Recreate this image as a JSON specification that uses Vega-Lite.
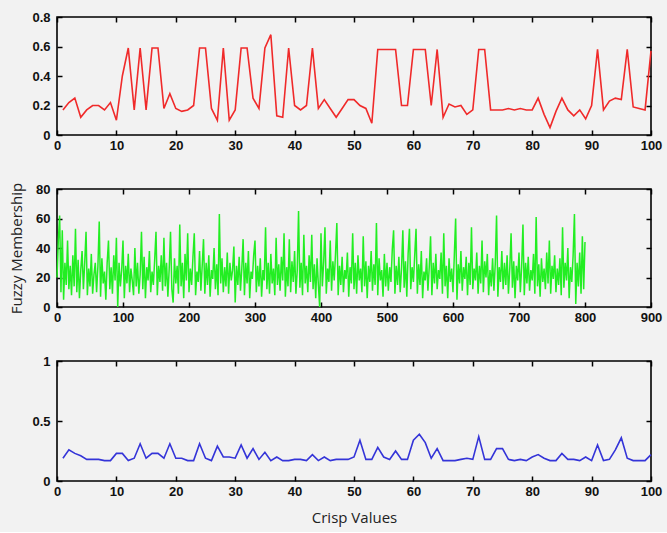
{
"$schema": "https://vega.github.io/schema/vega-lite/v6.json",
"background": "#f2f2f2",
"padding": {"left": 8, "top": 10, "right": 10, "bottom": 6},
"spacing": 54,
"bounds": "flush",
"config": {
  "view": {"stroke": "#000", "strokeWidth": 1.6, "fill": "#f2f2f2"},
  "axis": {"domain": false, "grid": false, "ticks": true, "tickSize": -5, "tickColor": "#000", "tickWidth": 1.5, "labelFont": "Liberation Sans", "labelFontWeight": "bold", "labelFontSize": 13, "labelColor": "#111", "labelFlush": false, "labelOverlap": false, "titleFont": "Open Sans", "titleFontWeight": "normal", "titleFontSize": 15, "titleColor": "#222"},
  "axisLeft": {"labelPadding": 12},
  "axisBottom": {"labelPadding": 9}
},
"datasets": {
"red": [{"x":1,"y":0.17},{"x":2,"y":0.22},{"x":3,"y":0.25},{"x":4,"y":0.12},{"x":5,"y":0.17},{"x":6,"y":0.2},{"x":7,"y":0.2},{"x":8,"y":0.17},{"x":9,"y":0.22},{"x":10,"y":0.1},{"x":11,"y":0.4},{"x":12,"y":0.59},{"x":13,"y":0.17},{"x":14,"y":0.59},{"x":15,"y":0.17},{"x":16,"y":0.59},{"x":17,"y":0.59},{"x":18,"y":0.18},{"x":19,"y":0.28},{"x":20,"y":0.18},{"x":21,"y":0.16},{"x":22,"y":0.17},{"x":23,"y":0.2},{"x":24,"y":0.59},{"x":25,"y":0.59},{"x":26,"y":0.18},{"x":27,"y":0.1},{"x":28,"y":0.59},{"x":29,"y":0.1},{"x":30,"y":0.17},{"x":31,"y":0.59},{"x":32,"y":0.59},{"x":33,"y":0.25},{"x":34,"y":0.18},{"x":35,"y":0.59},{"x":36,"y":0.68},{"x":37,"y":0.13},{"x":38,"y":0.12},{"x":39,"y":0.59},{"x":40,"y":0.2},{"x":41,"y":0.17},{"x":42,"y":0.2},{"x":43,"y":0.59},{"x":44,"y":0.18},{"x":45,"y":0.24},{"x":46,"y":0.18},{"x":47,"y":0.12},{"x":48,"y":0.18},{"x":49,"y":0.24},{"x":50,"y":0.24},{"x":51,"y":0.2},{"x":52,"y":0.18},{"x":53,"y":0.08},{"x":54,"y":0.58},{"x":55,"y":0.58},{"x":56,"y":0.58},{"x":57,"y":0.58},{"x":58,"y":0.2},{"x":59,"y":0.2},{"x":60,"y":0.58},{"x":61,"y":0.58},{"x":62,"y":0.58},{"x":63,"y":0.2},{"x":64,"y":0.58},{"x":65,"y":0.12},{"x":66,"y":0.21},{"x":67,"y":0.19},{"x":68,"y":0.2},{"x":69,"y":0.14},{"x":70,"y":0.17},{"x":71,"y":0.58},{"x":72,"y":0.58},{"x":73,"y":0.17},{"x":74,"y":0.17},{"x":75,"y":0.17},{"x":76,"y":0.18},{"x":77,"y":0.17},{"x":78,"y":0.18},{"x":79,"y":0.17},{"x":80,"y":0.17},{"x":81,"y":0.25},{"x":82,"y":0.14},{"x":83,"y":0.05},{"x":84,"y":0.16},{"x":85,"y":0.25},{"x":86,"y":0.17},{"x":87,"y":0.13},{"x":88,"y":0.17},{"x":89,"y":0.11},{"x":90,"y":0.2},{"x":91,"y":0.58},{"x":92,"y":0.17},{"x":93,"y":0.23},{"x":94,"y":0.25},{"x":95,"y":0.24},{"x":96,"y":0.58},{"x":97,"y":0.19},{"x":98,"y":0.18},{"x":99,"y":0.17},{"x":100,"y":0.57}],
"blue": [{"x":1,"y":0.19},{"x":2,"y":0.26},{"x":3,"y":0.23},{"x":4,"y":0.21},{"x":5,"y":0.18},{"x":6,"y":0.18},{"x":7,"y":0.18},{"x":8,"y":0.17},{"x":9,"y":0.17},{"x":10,"y":0.23},{"x":11,"y":0.23},{"x":12,"y":0.17},{"x":13,"y":0.19},{"x":14,"y":0.31},{"x":15,"y":0.19},{"x":16,"y":0.23},{"x":17,"y":0.23},{"x":18,"y":0.19},{"x":19,"y":0.31},{"x":20,"y":0.19},{"x":21,"y":0.19},{"x":22,"y":0.17},{"x":23,"y":0.17},{"x":24,"y":0.31},{"x":25,"y":0.19},{"x":26,"y":0.17},{"x":27,"y":0.29},{"x":28,"y":0.2},{"x":29,"y":0.2},{"x":30,"y":0.19},{"x":31,"y":0.3},{"x":32,"y":0.19},{"x":33,"y":0.27},{"x":34,"y":0.18},{"x":35,"y":0.24},{"x":36,"y":0.17},{"x":37,"y":0.2},{"x":38,"y":0.17},{"x":39,"y":0.17},{"x":40,"y":0.18},{"x":41,"y":0.18},{"x":42,"y":0.17},{"x":43,"y":0.22},{"x":44,"y":0.17},{"x":45,"y":0.2},{"x":46,"y":0.17},{"x":47,"y":0.18},{"x":48,"y":0.18},{"x":49,"y":0.18},{"x":50,"y":0.2},{"x":51,"y":0.34},{"x":52,"y":0.18},{"x":53,"y":0.18},{"x":54,"y":0.28},{"x":55,"y":0.2},{"x":56,"y":0.18},{"x":57,"y":0.25},{"x":58,"y":0.18},{"x":59,"y":0.18},{"x":60,"y":0.34},{"x":61,"y":0.39},{"x":62,"y":0.32},{"x":63,"y":0.19},{"x":64,"y":0.27},{"x":65,"y":0.17},{"x":66,"y":0.17},{"x":67,"y":0.17},{"x":68,"y":0.18},{"x":69,"y":0.19},{"x":70,"y":0.18},{"x":71,"y":0.37},{"x":72,"y":0.18},{"x":73,"y":0.18},{"x":74,"y":0.27},{"x":75,"y":0.27},{"x":76,"y":0.18},{"x":77,"y":0.17},{"x":78,"y":0.18},{"x":79,"y":0.17},{"x":80,"y":0.2},{"x":81,"y":0.22},{"x":82,"y":0.19},{"x":83,"y":0.17},{"x":84,"y":0.17},{"x":85,"y":0.23},{"x":86,"y":0.18},{"x":87,"y":0.18},{"x":88,"y":0.17},{"x":89,"y":0.2},{"x":90,"y":0.17},{"x":91,"y":0.3},{"x":92,"y":0.17},{"x":93,"y":0.18},{"x":94,"y":0.26},{"x":95,"y":0.36},{"x":96,"y":0.19},{"x":97,"y":0.17},{"x":98,"y":0.17},{"x":99,"y":0.17},{"x":100,"y":0.22}],
"green": [
{"x":0,"y":20},{"x":2,"y":45},{"x":4,"y":62},{"x":6,"y":10},{"x":8,"y":52},{"x":10,"y":5},{"x":12,"y":30},{"x":14,"y":15},{"x":16,"y":45},{"x":18,"y":12},
{"x":20,"y":28},{"x":22,"y":8},{"x":24,"y":35},{"x":26,"y":14},{"x":28,"y":53},{"x":30,"y":10},{"x":32,"y":32},{"x":34,"y":6},{"x":36,"y":25},{"x":38,"y":38},
{"x":40,"y":12},{"x":42,"y":30},{"x":44,"y":51},{"x":46,"y":8},{"x":48,"y":26},{"x":50,"y":14},{"x":52,"y":36},{"x":54,"y":9},{"x":56,"y":22},{"x":58,"y":30},
{"x":60,"y":10},{"x":62,"y":28},{"x":64,"y":58},{"x":66,"y":7},{"x":68,"y":33},{"x":70,"y":16},{"x":72,"y":24},{"x":74,"y":5},{"x":76,"y":30},{"x":78,"y":45},
{"x":80,"y":12},{"x":82,"y":27},{"x":84,"y":9},{"x":86,"y":35},{"x":88,"y":18},{"x":90,"y":47},{"x":92,"y":0},{"x":94,"y":30},{"x":96,"y":14},{"x":98,"y":25},
{"x":100,"y":45},{"x":102,"y":6},{"x":104,"y":28},{"x":106,"y":16},{"x":108,"y":36},{"x":110,"y":10},{"x":112,"y":26},{"x":114,"y":18},{"x":116,"y":8},{"x":118,"y":40},
{"x":120,"y":14},{"x":122,"y":30},{"x":124,"y":9},{"x":126,"y":22},{"x":128,"y":51},{"x":130,"y":12},{"x":132,"y":34},{"x":134,"y":6},{"x":136,"y":27},{"x":138,"y":18},
{"x":140,"y":38},{"x":142,"y":10},{"x":144,"y":24},{"x":146,"y":15},{"x":148,"y":32},{"x":150,"y":51},{"x":152,"y":8},{"x":154,"y":28},{"x":156,"y":17},{"x":158,"y":35},
{"x":160,"y":11},{"x":162,"y":47},{"x":164,"y":14},{"x":166,"y":30},{"x":168,"y":7},{"x":170,"y":26},{"x":172,"y":51},{"x":174,"y":12},{"x":176,"y":3},{"x":178,"y":33},
{"x":180,"y":16},{"x":182,"y":28},{"x":184,"y":9},{"x":186,"y":56},{"x":188,"y":14},{"x":190,"y":30},{"x":192,"y":6},{"x":194,"y":36},{"x":196,"y":18},{"x":198,"y":50},
{"x":200,"y":10},{"x":202,"y":26},{"x":204,"y":15},{"x":206,"y":34},{"x":208,"y":50},{"x":210,"y":8},{"x":212,"y":24},{"x":214,"y":17},{"x":216,"y":38},{"x":218,"y":11},
{"x":220,"y":28},{"x":222,"y":46},{"x":224,"y":9},{"x":226,"y":30},{"x":228,"y":15},{"x":230,"y":35},{"x":232,"y":7},{"x":234,"y":25},{"x":236,"y":19},{"x":238,"y":40},
{"x":240,"y":12},{"x":242,"y":29},{"x":244,"y":8},{"x":246,"y":63},{"x":248,"y":16},{"x":250,"y":33},{"x":252,"y":10},{"x":254,"y":27},{"x":256,"y":14},{"x":258,"y":37},
{"x":260,"y":9},{"x":262,"y":30},{"x":264,"y":18},{"x":266,"y":25},{"x":268,"y":41},{"x":270,"y":3},{"x":272,"y":28},{"x":274,"y":15},{"x":276,"y":34},{"x":278,"y":11},
{"x":280,"y":26},{"x":282,"y":46},{"x":284,"y":8},{"x":286,"y":30},{"x":288,"y":16},{"x":290,"y":38},{"x":292,"y":6},{"x":294,"y":24},{"x":296,"y":19},{"x":298,"y":35},
{"x":300,"y":45},{"x":302,"y":10},{"x":304,"y":28},{"x":306,"y":14},{"x":308,"y":33},{"x":310,"y":7},{"x":312,"y":25},{"x":314,"y":18},{"x":316,"y":54},{"x":318,"y":12},
{"x":320,"y":30},{"x":322,"y":9},{"x":324,"y":36},{"x":326,"y":16},{"x":328,"y":26},{"x":330,"y":8},{"x":332,"y":47},{"x":334,"y":15},{"x":336,"y":29},{"x":338,"y":11},
{"x":340,"y":34},{"x":342,"y":18},{"x":344,"y":50},{"x":346,"y":7},{"x":348,"y":27},{"x":350,"y":14},{"x":352,"y":46},{"x":354,"y":10},{"x":356,"y":31},{"x":358,"y":17},
{"x":360,"y":38},{"x":362,"y":9},{"x":364,"y":25},{"x":366,"y":65},{"x":368,"y":13},{"x":370,"y":30},{"x":372,"y":8},{"x":374,"y":49},{"x":376,"y":16},{"x":378,"y":28},
{"x":380,"y":10},{"x":382,"y":35},{"x":384,"y":17},{"x":386,"y":49},{"x":388,"y":12},{"x":390,"y":29},{"x":392,"y":6},{"x":394,"y":33},{"x":396,"y":15},{"x":398,"y":0},
{"x":400,"y":50},{"x":402,"y":14},{"x":404,"y":30},{"x":406,"y":54},{"x":408,"y":9},{"x":410,"y":26},{"x":412,"y":17},{"x":414,"y":45},{"x":416,"y":11},{"x":418,"y":31},
{"x":420,"y":18},{"x":422,"y":36},{"x":424,"y":57},{"x":426,"y":8},{"x":428,"y":28},{"x":430,"y":15},{"x":432,"y":34},{"x":434,"y":10},{"x":436,"y":25},{"x":438,"y":19},
{"x":440,"y":37},{"x":442,"y":7},{"x":444,"y":27},{"x":446,"y":16},{"x":448,"y":50},{"x":450,"y":12},{"x":452,"y":30},{"x":454,"y":9},{"x":456,"y":35},{"x":458,"y":18},
{"x":460,"y":26},{"x":462,"y":10},{"x":464,"y":48},{"x":466,"y":14},{"x":468,"y":31},{"x":470,"y":6},{"x":472,"y":28},{"x":474,"y":17},{"x":476,"y":38},{"x":478,"y":11},
{"x":480,"y":29},{"x":482,"y":15},{"x":484,"y":57},{"x":486,"y":8},{"x":488,"y":33},{"x":490,"y":18},{"x":492,"y":25},{"x":494,"y":7},{"x":496,"y":36},{"x":498,"y":14},
{"x":500,"y":30},{"x":502,"y":11},{"x":504,"y":27},{"x":506,"y":17},{"x":508,"y":39},{"x":510,"y":52},{"x":512,"y":9},{"x":514,"y":28},{"x":516,"y":15},{"x":518,"y":34},
{"x":520,"y":10},{"x":522,"y":26},{"x":524,"y":52},{"x":526,"y":13},{"x":528,"y":31},{"x":530,"y":7},{"x":532,"y":36},{"x":534,"y":53},{"x":536,"y":12},{"x":538,"y":27},
{"x":540,"y":17},{"x":542,"y":35},{"x":544,"y":53},{"x":546,"y":9},{"x":548,"y":29},{"x":550,"y":15},{"x":552,"y":38},{"x":554,"y":6},{"x":556,"y":24},{"x":558,"y":18},
{"x":560,"y":33},{"x":562,"y":11},{"x":564,"y":27},{"x":566,"y":48},{"x":568,"y":8},{"x":570,"y":30},{"x":572,"y":16},{"x":574,"y":36},{"x":576,"y":12},{"x":578,"y":25},
{"x":580,"y":19},{"x":582,"y":37},{"x":584,"y":9},{"x":586,"y":50},{"x":588,"y":14},{"x":590,"y":28},{"x":592,"y":6},{"x":594,"y":33},{"x":596,"y":17},{"x":598,"y":26},
{"x":600,"y":10},{"x":602,"y":35},{"x":604,"y":60},{"x":606,"y":5},{"x":608,"y":29},{"x":610,"y":16},{"x":612,"y":38},{"x":614,"y":11},{"x":616,"y":27},{"x":618,"y":19},
{"x":620,"y":34},{"x":622,"y":8},{"x":624,"y":30},{"x":626,"y":15},{"x":628,"y":54},{"x":630,"y":12},{"x":632,"y":26},{"x":634,"y":18},{"x":636,"y":37},{"x":638,"y":9},
{"x":640,"y":28},{"x":642,"y":16},{"x":644,"y":45},{"x":646,"y":10},{"x":648,"y":31},{"x":650,"y":20},{"x":652,"y":36},{"x":654,"y":8},{"x":656,"y":25},{"x":658,"y":14},
{"x":660,"y":33},{"x":662,"y":11},{"x":664,"y":29},{"x":666,"y":62},{"x":668,"y":7},{"x":670,"y":27},{"x":672,"y":17},{"x":674,"y":38},{"x":676,"y":12},{"x":678,"y":30},
{"x":680,"y":15},{"x":682,"y":35},{"x":684,"y":9},{"x":686,"y":26},{"x":688,"y":50},{"x":690,"y":13},{"x":692,"y":31},{"x":694,"y":6},{"x":696,"y":28},{"x":698,"y":18},
{"x":700,"y":37},{"x":702,"y":10},{"x":704,"y":27},{"x":706,"y":56},{"x":708,"y":8},{"x":710,"y":30},{"x":712,"y":16},{"x":714,"y":34},{"x":716,"y":11},{"x":718,"y":25},
{"x":720,"y":18},{"x":722,"y":36},{"x":724,"y":9},{"x":726,"y":61},{"x":728,"y":14},{"x":730,"y":29},{"x":732,"y":7},{"x":734,"y":33},{"x":736,"y":17},{"x":738,"y":26},
{"x":740,"y":12},{"x":742,"y":37},{"x":744,"y":16},{"x":746,"y":45},{"x":748,"y":9},{"x":750,"y":28},{"x":752,"y":19},{"x":754,"y":35},{"x":756,"y":10},{"x":758,"y":26},
{"x":760,"y":15},{"x":762,"y":33},{"x":764,"y":8},{"x":766,"y":54},{"x":768,"y":13},{"x":770,"y":30},{"x":772,"y":18},{"x":774,"y":40},{"x":776,"y":6},{"x":778,"y":27},
{"x":780,"y":17},{"x":782,"y":35},{"x":784,"y":63},{"x":786,"y":2},{"x":788,"y":30},{"x":790,"y":14},{"x":792,"y":37},{"x":794,"y":9},{"x":796,"y":48},{"x":798,"y":12},
{"x":800,"y":44}
]
},
"vconcat": [
{
 "width": 594, "height": 118,
 "data": {"name": "red"},
 "layer": [
  {"mark": {"type": "line", "color": "#f02a2a", "strokeWidth": 1.6},
   "encoding": {
    "x": {"field": "x", "type": "quantitative", "scale": {"domain": [0, 100], "nice": false}, "axis": {"orient": "bottom", "values": [0,10,20,30,40,50,60,70,80,90,100], "title": null}},
    "y": {"field": "y", "type": "quantitative", "scale": {"domain": [0, 0.8], "nice": false}, "axis": {"orient": "left", "values": [0,0.2,0.4,0.6,0.8], "format": "~g", "title": null}}
   }},
  {"mark": {"type": "line", "strokeOpacity": 0},
   "encoding": {
    "x": {"field": "x", "type": "quantitative", "scale": {"domain": [0, 100], "nice": false}, "axis": {"orient": "top", "values": [0,10,20,30,40,50,60,70,80,90,100], "labels": false, "title": null}},
    "y": {"field": "y", "type": "quantitative", "scale": {"domain": [0, 0.8], "nice": false}, "axis": {"orient": "right", "values": [0,0.2,0.4,0.6,0.8], "labels": false, "title": null}}
   }}
 ],
 "resolve": {"axis": {"x": "independent", "y": "independent"}}
},
{
 "width": 594, "height": 118,
 "data": {"name": "green"},
 "layer": [
  {"mark": {"type": "line", "color": "#22ee22", "strokeWidth": 1.5},
   "encoding": {
    "x": {"field": "x", "type": "quantitative", "scale": {"domain": [0, 900], "nice": false}, "axis": {"orient": "bottom", "values": [0,100,200,300,400,500,600,700,800,900], "title": null}},
    "y": {"field": "y", "type": "quantitative", "scale": {"domain": [0, 80], "nice": false}, "axis": {"orient": "left", "values": [0,20,40,60,80], "title": "Fuzzy Membership", "titlePadding": 11}}
   }},
  {"mark": {"type": "line", "strokeOpacity": 0},
   "encoding": {
    "x": {"field": "x", "type": "quantitative", "scale": {"domain": [0, 900], "nice": false}, "axis": {"orient": "top", "values": [0,100,200,300,400,500,600,700,800,900], "labels": false, "title": null}},
    "y": {"field": "y", "type": "quantitative", "scale": {"domain": [0, 80], "nice": false}, "axis": {"orient": "right", "values": [0,20,40,60,80], "labels": false, "title": null}}
   }}
 ],
 "resolve": {"axis": {"x": "independent", "y": "independent"}}
},
{
 "width": 594, "height": 120,
 "data": {"name": "blue"},
 "layer": [
  {"mark": {"type": "line", "color": "#3434d8", "strokeWidth": 1.6},
   "encoding": {
    "x": {"field": "x", "type": "quantitative", "scale": {"domain": [0, 100], "nice": false}, "axis": {"orient": "bottom", "values": [0,10,20,30,40,50,60,70,80,90,100], "title": "Crisp Values", "titlePadding": 12}},
    "y": {"field": "y", "type": "quantitative", "scale": {"domain": [0, 1], "nice": false}, "axis": {"orient": "left", "values": [0,0.5,1], "format": "~g", "title": null}}
   }},
  {"mark": {"type": "line", "strokeOpacity": 0},
   "encoding": {
    "x": {"field": "x", "type": "quantitative", "scale": {"domain": [0, 100], "nice": false}, "axis": {"orient": "top", "values": [0,10,20,30,40,50,60,70,80,90,100], "labels": false, "title": null}},
    "y": {"field": "y", "type": "quantitative", "scale": {"domain": [0, 1], "nice": false}, "axis": {"orient": "right", "values": [0,0.5,1], "labels": false, "title": null}}
   }}
 ],
 "resolve": {"axis": {"x": "independent", "y": "independent"}}
}
]
}
